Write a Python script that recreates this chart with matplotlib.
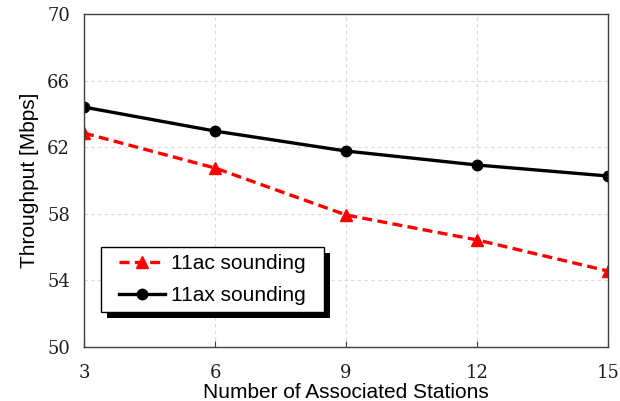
import matplotlib
matplotlib.use('Agg')
import matplotlib.pyplot as plt
import matplotlib.patheffects as pe
from matplotlib.patches import Rectangle

# data
stations = [3, 6, 9, 12, 15]
ac_throughput = [62.85, 60.75, 57.93, 56.43, 54.56]
ax_throughput = [64.41, 62.97, 61.77, 60.93, 60.27]
y_ticks = [50, 54, 58, 62, 66, 70]

fig = plt.figure(figsize=(6.2, 4.01), dpi=100)
ax = fig.add_axes([0.1355, 0.1347, 0.8455, 0.8303])

ax.plot(stations, ac_throughput, color='red', linestyle='--', linewidth=2.4,
        marker='^', markersize=8, label='11ac sounding', dashes=(3, 1.6))
ax.plot(stations, ax_throughput, color='black', linewidth=2.4,
        marker='o', markersize=7.5, label='11ax sounding')

ax.set_xlim(3, 15)
ax.set_ylim(50, 70)
ax.set_xticks(stations)
ax.set_yticks(y_ticks)
ax.grid(True, linestyle=(0, (3, 3)), color='#d8d8d8', linewidth=0.8)
ax.set_axisbelow(True)

for s in ax.spines.values():
    s.set_color('#404040')
    s.set_linewidth(1.0)

ax.tick_params(axis='x', direction='in', length=4, pad=12, color='#404040')
ax.tick_params(axis='y', length=0, pad=10)
for lbl in ax.get_xticklabels() + ax.get_yticklabels():
    lbl.set_family('DejaVu Serif')
    lbl.set_fontsize(13)
    lbl.set_color('#202020')

ax.set_xlabel('Number of Associated Stations', family='Liberation Sans', fontsize=15, labelpad=1)
ax.set_ylabel('Throughput [Mbps]', family='Liberation Sans', fontsize=15, labelpad=6)

# legend box with a hard black shadow, drawn separately so the padding can be wider than tall
box = Rectangle((0.0324, 0.105), 0.4256, 0.195, transform=ax.transAxes,
                facecolor='white', edgecolor='black', linewidth=1.0, zorder=5)
box.set_path_effects([pe.SimplePatchShadow(offset=(4.5, -4.5), shadow_rgbFace='black', alpha=1),
                      pe.Normal()])
ax.add_patch(box)

leg = ax.legend(loc='center', bbox_to_anchor=(0.0324 + 0.4256 / 2, 0.105 + 0.195 / 2),
                frameon=False, prop={'family': 'Liberation Sans', 'size': 15},
                handlelength=2.2, labelspacing=0.65, handletextpad=0.3,
                borderpad=0, borderaxespad=0)
leg.set_zorder(6)

fig.savefig('out.png', dpi=100)
